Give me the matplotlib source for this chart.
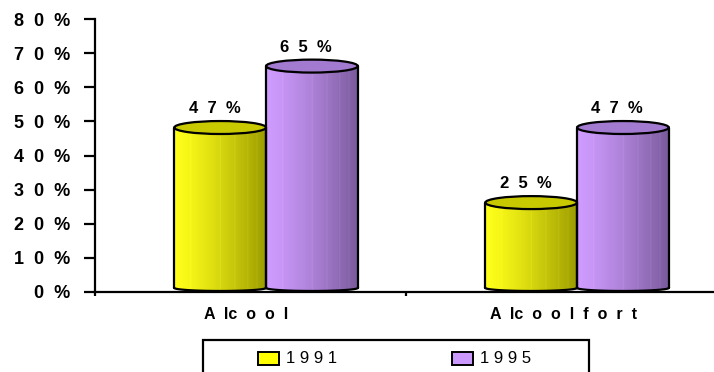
import numpy as np
import matplotlib
matplotlib.use("Agg")
import matplotlib.pyplot as plt
from matplotlib.patches import Ellipse, Rectangle, PathPatch
from matplotlib.path import Path
from matplotlib.colors import to_rgb

# ---- data -------------------------------------------------------------
categories = ["A  lc  o  o  l", "A  lc  o  o  l  f  o  r  t"]
series_labels = ["1 9 9 1", "1 9 9 5"]
values_1991 = [47, 25]
values_1995 = [65, 47]
value_labels_1991 = ["4  7  %", "2  5  %"]
value_labels_1995 = ["6  5  %", "4  7  %"]
ytick_values = [0, 10, 20, 30, 40, 50, 60, 70, 80]
ytick_labels = ["0  %", "1  0  %", "2  0  %", "3  0  %", "4  0  %",
                "5  0  %", "6  0  %", "7  0  %", "8  0  %"]

# ---- styling ----------------------------------------------------------
FONT = "Liberation Sans"
W, H = 714, 372
BAR_W = 0.295
OFFSETS = [0.255, 0.55]
# (left colour, right colour, top colour, legend swatch)
PALETTE = [
    ("#ffff1a", "#9c9c00", "#c9c900", "#ffff00"),
    ("#cf9cff", "#7a5a9c", "#a27ad0", "#cc99ff"),
]
TOP_SEMI = 1.9      # semi-height of the top ellipse, in % units
BOT_SEMI = 0.9
DEPTH = 1.2         # floor offset of the 3-D cylinders, in % units

fig = plt.figure(figsize=(W / 100, H / 100), dpi=100)
ax = fig.add_axes([95 / W, 80 / H, 619 / W, 273 / H])
ax.set_xlim(0, 619 / 311)
ax.set_ylim(0, 80)


def gradient_image(c_left, c_right, n=200):
    a = np.array(to_rgb(c_left))
    b = np.array(to_rgb(c_right))
    t = np.linspace(0, 1, n)
    # keep the left part bright, darken toward the right edge
    t = t ** 1.3
    cols = a[None, :] * (1 - t[:, None]) + b[None, :] * t[:, None]
    # thin light stripes on the surface
    for s in (0.18, 0.5, 0.66, 0.8, 0.9):
        k = int(s * n)
        cols[k:k + 1] = np.clip(cols[k:k + 1] + 0.08, 0, 1)
    return cols[None, :, :]


def cylinder(x0, value, colors):
    c_left, c_right, c_top, _ = colors
    x1 = x0 + BAR_W
    xc = (x0 + x1) / 2
    base = DEPTH
    top = value + DEPTH
    theta = np.linspace(np.pi, 2 * np.pi, 60)
    bx = xc + (BAR_W / 2) * np.cos(theta)
    by = base + BOT_SEMI * np.sin(theta)
    verts = [(x0, top)] + list(zip(bx, by)) + [(x1, top), (x0, top)]
    body_path = Path(verts, closed=True)
    clip = PathPatch(body_path, transform=ax.transData, facecolor="none",
                     edgecolor="none")
    ax.add_patch(clip)
    img = ax.imshow(gradient_image(c_left, c_right), aspect="auto",
                    extent=(x0, x1, 0, top), interpolation="bilinear",
                    zorder=2)
    img.set_clip_path(clip)
    # outline of the body
    ax.plot([x0, x0], [base, top], color="black", lw=1.6, zorder=3,
            solid_capstyle="round")
    ax.plot([x1, x1], [base, top], color="black", lw=1.6, zorder=3,
            solid_capstyle="round")
    ax.plot(bx, by, color="black", lw=1.6, zorder=3)
    # top face
    ax.add_patch(Ellipse((xc, top), BAR_W, 2 * TOP_SEMI, facecolor=c_top,
                         edgecolor="black", lw=1.6, zorder=4))


for i in range(len(categories)):
    for s, (vals, labs) in enumerate(((values_1991, value_labels_1991),
                                      (values_1995, value_labels_1995))):
        x0 = i + OFFSETS[s]
        cylinder(x0, vals[i], PALETTE[s])
        ax.annotate(labs[i], (x0 + BAR_W / 2, vals[i]), xytext=(-4, 11),
                    textcoords="offset points", ha="center", va="bottom",
                    fontsize=12, fontweight="bold", family=FONT, zorder=5)

# ---- axes -------------------------------------------------------------
for side in ("top", "right"):
    ax.spines[side].set_visible(False)
for side in ("left", "bottom"):
    ax.spines[side].set_linewidth(1.6)
    ax.spines[side].set_color("black")
    ax.spines[side].set_zorder(6)

ax.set_yticks(ytick_values)
ax.set_yticklabels(ytick_labels, fontsize=13, fontweight="bold", family=FONT)
ax.tick_params(axis="y", length=8, width=1.6, pad=10, colors="black")

ax.set_xticks([0, 1])
ax.set_xticklabels([])
ax.tick_params(axis="x", which="major", length=3, width=1.6, direction="out")
ax.set_xticks([0.485, 1.505], minor=True)
ax.set_xticklabels(categories, minor=True, fontsize=11.5, fontweight="bold",
                   family=FONT)
ax.tick_params(axis="x", which="minor", length=0, pad=11)

# ---- legend -----------------------------------------------------------
def fx(x):
    return x / W


def fy(y):
    return 1 - y / H


fig.patches.append(Rectangle((fx(203), fy(385)), fx(589) - fx(203),
                             fy(340) - fy(385), transform=fig.transFigure,
                             facecolor="white", edgecolor="black", lw=1.6))
legend_x = [258, 452]
for s, lab in enumerate(series_labels):
    fig.patches.append(Rectangle((fx(legend_x[s]), fy(365)),
                                 fx(21), fy(352) - fy(365),
                                 transform=fig.transFigure,
                                 facecolor=PALETTE[s][3], edgecolor="black",
                                 lw=1.4))
    fig.text(fx(legend_x[s] + 28), fy(358.5), lab, ha="left", va="center",
             fontsize=12, family=FONT)

fig.savefig("out.png", dpi=100)
